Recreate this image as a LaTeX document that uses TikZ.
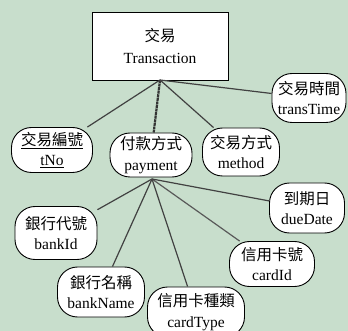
\documentclass[tikz,border=0pt]{standalone}
\usepackage{fontspec}
\setmainfont{Liberation Serif}
\newfontfamily\cjk{Noto Sans CJK TC}
\definecolor{bg}{RGB}{200,222,204}
\definecolor{ln}{RGB}{65,65,65}
\begin{document}
\begin{tikzpicture}[x=1pt,y=-1pt,
  attr/.style={draw=black,line width=0.9pt,fill=white,rounded corners=20pt,
    inner sep=0pt,align=center,font=\fontsize{15.5}{20.5}\selectfont},
  ent/.style={draw=black,line width=0.8pt,fill=white,inner sep=0pt,align=center,
    font=\fontsize{15.5}{21.5}\selectfont},
  link/.style={draw=ln,line width=1.2pt},
  dbl/.style={draw=ln!80!black,line width=2.2pt,dash pattern=on 3pt off 0.6pt}]
\fill[bg] (0,0) rectangle (348,331);
\useasboundingbox (0,0) rectangle (348,331);
\node[ent,minimum width=136pt,minimum height=68pt] (T) at (160,46) {{\cjk 交易}\\Transaction};
\coordinate (Tb) at (160,80);
\node[attr,minimum width=74pt,minimum height=49pt] (tt) at (309,98) {{\cjk 交易時間}\\transTime};
\node[attr,minimum width=81pt,minimum height=45pt] (tno) at (52,150) {\underline{\cjk 交易編號}\\\underline{tNo}};
\node[attr,minimum width=82pt,minimum height=44pt] (pay) at (151,155) {{\cjk 付款方式}\\payment};
\node[attr,minimum width=77pt,minimum height=48pt] (meth) at (241,152) {{\cjk 交易方式}\\method};
\node[attr,minimum width=75pt,minimum height=50pt] (due) at (307,208) {{\cjk 到期日}\\dueDate};
\node[attr,minimum width=82pt,minimum height=53pt] (bid) at (56,233) {{\cjk 銀行代號}\\bankId};
\node[attr,minimum width=85pt,minimum height=45pt] (cid) at (272,264) {{\cjk 信用卡號}\\cardId};
\node[attr,minimum width=87pt,minimum height=50pt] (bname) at (101,292) {{\cjk 銀行名稱}\\bankName};
\node[attr,minimum width=97pt,minimum height=50pt] (ctype) at (196,312) {{\cjk 信用卡種類}\\cardType};
\coordinate (Pb) at (152,179);
\draw[link] (Tb) -- (tno);
\draw[dbl] (Tb) -- (pay);
\draw[link] (Tb) -- (meth);
\draw[link] (Tb) -- (tt);
\draw[link] (Pb) -- (bid);
\draw[link] (Pb) -- (bname);
\draw[link] (Pb) -- (ctype);
\draw[link,draw=gray!70!black] (Pb) -- (cid);
\draw[link] (Pb) -- (due);
\end{tikzpicture}
\end{document}
